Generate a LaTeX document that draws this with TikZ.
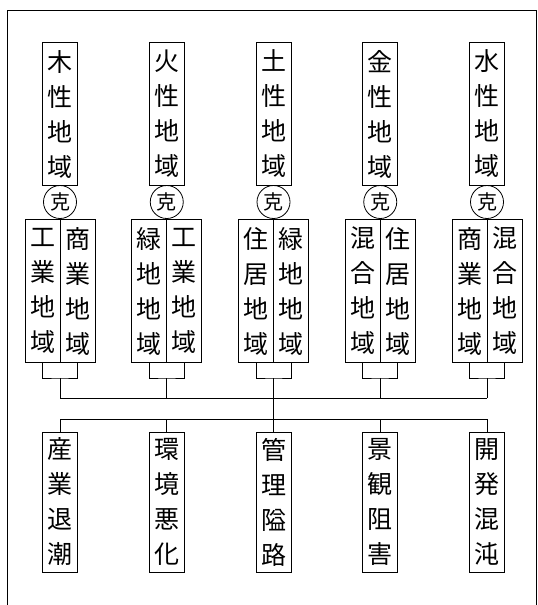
\documentclass[tikz,border=0pt]{standalone}
\usepackage{fontspec}
\newfontfamily\cjk{Noto Sans CJK JP}
\tikzset{
  tate/.style={draw, line width=0.8pt, minimum width=35pt, minimum height=143pt, inner sep=0pt, align=center, font=\cjk\fontsize{25}{35}\selectfont},
  koku/.style={draw, circle, line width=0.8pt, minimum size=33pt, inner sep=0pt, font=\cjk\fontsize{20}{20}\selectfont},
  sen/.style={line width=0.8pt}
}
\begin{document}
\begin{tikzpicture}[x=1pt, y=-1pt]
\useasboundingbox (0,0) rectangle (538,605);
\draw[sen] (7,605) -- (7,10) -- (536,10) -- (536,605);
\foreach \i/\s in {1/木,2/火,3/土,4/金,5/水} {
  \path (60+106.75*\i-106.75,114) node[tate] (t\i) {\s\\性\\地\\域};
  \path (60+106.75*\i-106.75,202) node[koku] (k\i) {克};
}
\path
(42.5,291) node[tate] (a1) {工\\業\\地\\域}
(77.5,291) node[tate] (b1) {商\\業\\地\\域};
\path
(149.25,291) node[tate] (a2) {緑\\地\\地\\域}
(184.25,291) node[tate] (b2) {工\\業\\地\\域};
\path
(256,291) node[tate] (a3) {住\\居\\地\\域}
(291,291) node[tate] (b3) {緑\\地\\地\\域};
\path
(362.75,291) node[tate] (a4) {混\\合\\地\\域}
(397.75,291) node[tate] (b4) {住\\居\\地\\域};
\path
(469.5,291) node[tate] (a5) {商\\業\\地\\域}
(504.5,291) node[tate] (b5) {混\\合\\地\\域};
\path
(60,502) node[tate, minimum height=140pt] (e1) {産\\業\\退\\潮}
(166.75,502) node[tate, minimum height=140pt] (e2) {環\\境\\悪\\化}
(273.5,502) node[tate, minimum height=140pt] (e3) {管\\理\\隘\\路}
(380.25,502) node[tate, minimum height=140pt] (e4) {景\\観\\阻\\害}
(487,502) node[tate, minimum height=140pt] (e5) {開\\発\\混\\沌};
\foreach \i in {1,...,5} {
  \coordinate (j\i) at (60+106.75*\i-106.75,378);
  \coordinate (m\i) at (60+106.75*\i-106.75,398);
  \coordinate (n\i) at (60+106.75*\i-106.75,419);
  \draw[sen] (a\i.south) |- (j\i) -| (b\i.south);
  \draw[sen] (j\i) -- (m\i);
  \draw[sen] (n\i) -- (e\i.north);
}
\draw[sen] (m1) -- (m5);
\draw[sen] (m3) -- (n3);
\draw[sen] (n1) -- (n5);
\end{tikzpicture}
\end{document}
